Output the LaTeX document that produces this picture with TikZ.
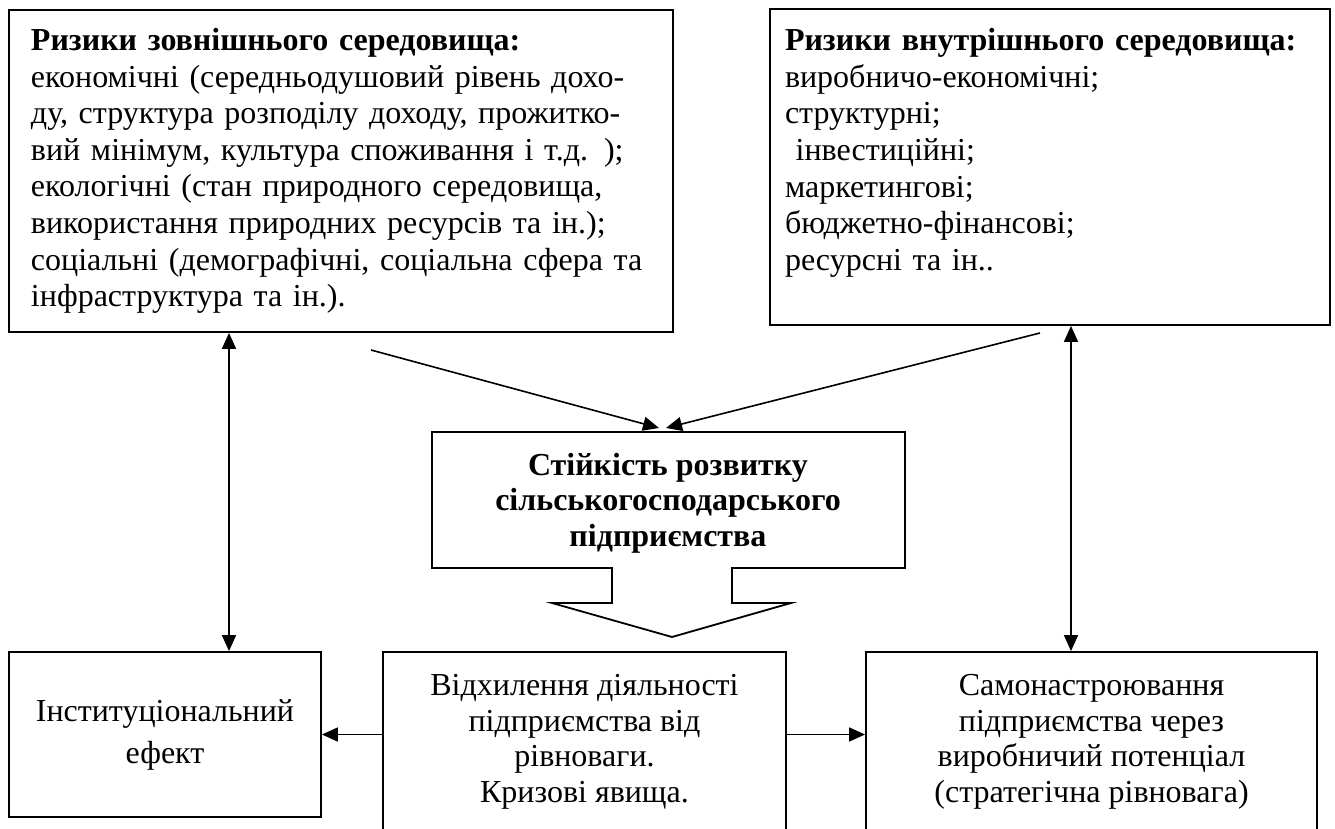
\documentclass[tikz,border=0pt]{standalone}
\usepackage{fontspec}
\setmainfont{Liberation Serif}
\usetikzlibrary{arrows.meta}
\begin{document}
\begin{tikzpicture}[x=0.5pt, y=-0.5pt, >={Triangle[length=8pt,width=7pt]}]
\tikzstyle{every node} = [rectangle, draw, line width=0.9pt, inner sep=0pt]
\tikzstyle{riskbox} = [align=left, font=\fontsize{16}{18.3}\selectfont]
\tikzstyle{outbox} = [align=center, font=\fontsize{16}{17.8}\selectfont]
\useasboundingbox (0,0) rectangle (1335,829);
\clip (0,0) rectangle (1335,829);
\node[riskbox, minimum width=332pt, minimum height=161pt, text width=310pt] (ext) at (341,171) {\textbf{Ризики зовнішнього середовища:}\\
економічні (середньодушовий рівень дохо-\\
ду, структура розподілу доходу, прожитко-\\
вий мінімум, культура споживання і т.д. );\\
екологічні (стан природного середовища,\\
використання природних ресурсів та ін.);\\
соціальні (демографічні, соціальна сфера та\\
інфраструктура та ін.).};
\node[riskbox, minimum width=280pt, minimum height=158pt, text width=265pt] (int) at (1050,167) {\textbf{Ризики внутрішнього середовища:}\\
виробничо-економічні;\\
структурні;\\
\ інвестиційні;\\
маркетингові;\\
бюджетно-фінансові;\\
ресурсні та ін..\\[-0.6pt]\mbox{}};
\draw[line width=0.9pt] (432,432) -- (905,432) -- (905,568) -- (732,568) -- (732,603) -- (791,603) -- (672,637) -- (552,603) -- (612,603) -- (612,568) -- (432,568) -- cycle;
\node[draw=none, align=center, font=\fontsize{16}{17.8}\selectfont\bfseries] (stab) at (668,503) {Стійкість розвитку\\ сільськогосподарського\\ підприємства};
\node[outbox, minimum width=156pt, minimum height=82.5pt, font=\fontsize{16}{21}\selectfont] (inst) at (165,734.5) {Інституціональний\\ ефект};
\node[outbox, minimum width=201.5pt, minimum height=90pt] (dev) at (584.5,742) {Відхилення діяльності\\ підприємства від\\ рівноваги.\\ Кризові явища.};
\node[outbox, minimum width=225.5pt, minimum height=90pt] (self) at (1091.5,742) {Самонастроювання\\ підприємства через\\ виробничий потенціал\\ (стратегічна рівновага)};
\coordinate (lx) at (229,0);
\coordinate (rx) at (1071,0);
\coordinate (fromext) at (371,350);
\coordinate (fromint) at (1040,333);
\coordinate (tipext) at (659,428);
\coordinate (tipint) at (666,428);
\foreach \from/\to/\x in {ext/inst/lx, int/self/rx}
\draw [<->, line width=0.8pt] (\from.south -| \x) -- (\to.north -| \x);
\foreach \from/\to in {fromext/tipext, fromint/tipint}
\draw [->, line width=0.8pt] (\from) -- (\to);
\draw [->, line width=0.8pt] (dev.west |- inst.east) -- (inst.east);
\draw [->, line width=0.8pt] (dev.east |- inst.east) -- (self.west |- inst.east);
\end{tikzpicture}
\end{document}
